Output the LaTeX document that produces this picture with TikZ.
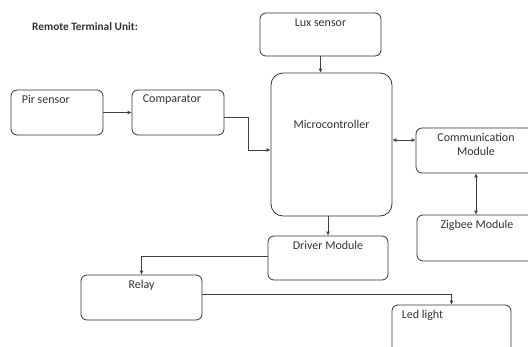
\documentclass[tikz,border=0pt]{standalone}
\usepackage{fontspec}
\setmainfont{Carlito}
\usetikzlibrary{arrows.meta}

\tikzset{
  blk/.style={draw=black!80, line width=0.8pt, rounded corners=6pt, inner sep=0pt},
  lbl/.style={font=\fontsize{12}{13.5}\selectfont, text=black!80, inner sep=0pt},
  arr/.style={draw=black!75, line width=0.8pt, -{Latex[length=4pt,width=4pt]}},
  dbl/.style={draw=black!75, line width=0.8pt, {Latex[length=4pt,width=4pt]}-{Latex[length=4pt,width=4pt]}}
}

\begin{document}
\begin{tikzpicture}[x=1pt,y=-1pt]
        \useasboundingbox (0,0) rectangle (528,346);
        % title
        \node[lbl, font=\fontsize{11.3}{13}\selectfont\bfseries, anchor=west] (title) at (32,27) {Remote Terminal Unit:};
        % blocks (centres in px, y down)
        \node[blk, minimum width=121pt, minimum height=43pt,
              label={[lbl,anchor=center,yshift=-10pt]north:Lux sensor}] (lux) at (320.5,34.5) {};
        \node[blk, minimum width=121pt, minimum height=143pt, rounded corners=12pt,
              label={[lbl,anchor=center,yshift=-52pt]north:Microcontroller}] (micro) at (331.5,144.5) {};
        \node[blk, minimum width=92pt, minimum height=45pt,
              label={[lbl,anchor=west,xshift=11pt,yshift=-10pt]north west:Pir sensor}] (pir) at (57,112.5) {};
        \node[blk, minimum width=92pt, minimum height=45pt,
              label={[lbl,anchor=west,xshift=11pt,yshift=-10pt]north west:Comparator}] (comp) at (178,112.5) {};
        \node[blk, minimum width=120pt, minimum height=45pt,
              label={[lbl,anchor=center,align=center,yshift=-17pt]north:Communication\\Module}] (comm) at (476,150.5) {};
        \node[blk, minimum width=120pt, minimum height=46pt,
              label={[lbl,anchor=center,yshift=-11pt]north:Zigbee Module}] (zig) at (477,238) {};
        \node[blk, minimum width=120pt, minimum height=44pt,
              label={[lbl,anchor=center,yshift=-10pt]north:Driver Module}] (drv) at (328,258) {};
        \node[blk, minimum width=121pt, minimum height=45pt,
              label={[lbl,anchor=center,yshift=-11pt]north:Relay}] (relay) at (141.5,297.5) {};
        \node[blk, minimum width=119pt, minimum height=55pt,
              label={[lbl,anchor=west,xshift=10pt,yshift=-11pt]north west:Led light}] (led) at (451.5,332.5) {};
        % connectors
        \coordinate (cmp) at ([yshift=-4.5pt]comp.east);
        \coordinate (mcl) at ([yshift=-5.5pt]micro.west);
        \coordinate (mcr) at ([yshift=4.5pt]micro.east);
        \coordinate (rly) at ([yshift=3.5pt]relay.east);
        \draw[arr] (lux.south) -- (lux.south |- micro.north);
        \draw[arr] (pir.east) -- (comp.west);
        \draw[arr] (cmp) -- ++(24,0) |- (mcl);
        \draw[dbl] (mcr) -- (mcr -| comm.west);
        \draw[dbl] (comm.south) -- (comm.south |- zig.north);
        \draw[arr] (drv.north |- micro.south) -- (drv.north);
        \draw[arr] ([yshift=2pt]drv.west) -| (relay.north);
        \draw[arr] (rly) -| (led.north);
\end{tikzpicture}
\end{document}
